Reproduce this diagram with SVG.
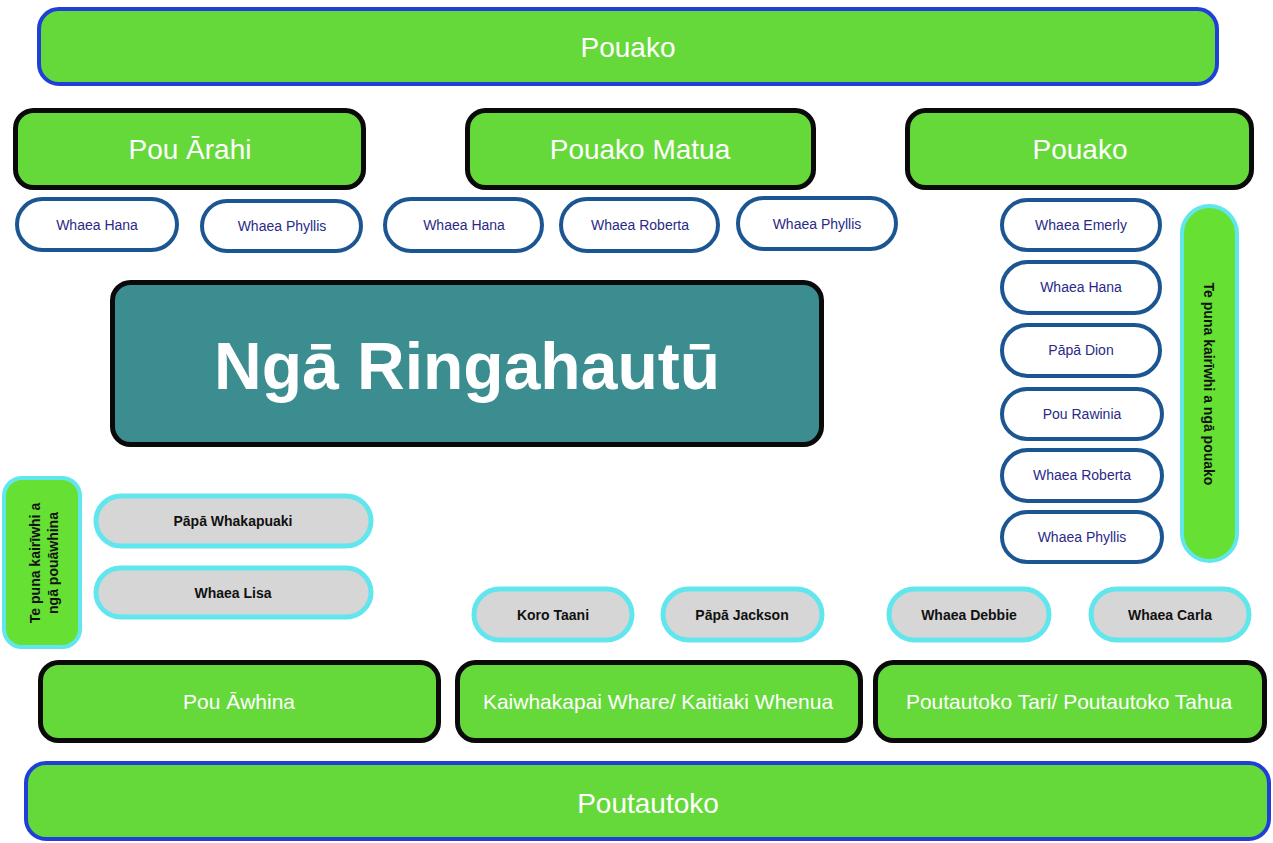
<svg xmlns="http://www.w3.org/2000/svg" width="1273" height="843" viewBox="0 0 1273 843">
<style>
.bar{fill:#66d93a;stroke:#1f3fd8;stroke-width:4}
.box{fill:#66d93a;stroke:#0a0a0a;stroke-width:5}
.pill{fill:#ffffff;stroke:#1b5592;stroke-width:4}
.gray{fill:#d6d6d6;stroke:#62e6ee;stroke-width:5}
.vert{fill:#66e032;stroke:#62e6ee;stroke-width:4}
.title{fill:#3b8d90;stroke:#0a0a0a;stroke-width:5}
text{font-family:"Liberation Sans",Arial,Helvetica,sans-serif;text-anchor:middle}
.big{fill:#ffffff;font-size:28px}
.mid{fill:#ffffff;font-size:21px}
.pt{fill:#2a2a86;font-size:14px}
.gt{fill:#111111;font-size:14px;font-weight:bold}
.vt{fill:#111111;font-size:14px;font-weight:bold}
</style>
<rect width="1273" height="843" fill="#ffffff"/>
<g id="connectors"></g>
<g id="top-pouako"><rect class="bar" x="39" y="9" width="1178" height="75" rx="20"/><text class="big" x="628" y="57">Pouako</text></g>
<g id="pou-arahi"><rect class="box" x="15.5" y="110.5" width="348" height="77" rx="18"/><text class="big" x="190" y="159">Pou Ārahi</text></g>
<g id="pouako-matua"><rect class="box" x="467.5" y="110.5" width="346" height="77" rx="18"/><text class="big" x="640" y="159">Pouako Matua</text></g>
<g id="pouako-2"><rect class="box" x="907.5" y="110.5" width="344" height="77" rx="18"/><text class="big" x="1080" y="159">Pouako</text></g>
<g id="p1"><rect class="pill" x="17" y="199" width="160" height="51" rx="25.5"/><text class="pt" x="97" y="230">Whaea Hana</text></g>
<g id="p2"><rect class="pill" x="202" y="201" width="159" height="50" rx="25"/><text class="pt" x="282" y="231">Whaea Phyllis</text></g>
<g id="p3"><rect class="pill" x="385" y="199" width="157" height="52" rx="26"/><text class="pt" x="464" y="230">Whaea Hana</text></g>
<g id="p4"><rect class="pill" x="561" y="199" width="157" height="52" rx="26"/><text class="pt" x="640" y="230">Whaea Roberta</text></g>
<g id="p5"><rect class="pill" x="738" y="198" width="158" height="51" rx="25.5"/><text class="pt" x="817" y="229">Whaea Phyllis</text></g>
<g id="r1"><rect class="pill" x="1002" y="200" width="158" height="50" rx="25"/><text class="pt" x="1081" y="230">Whaea Emerly</text></g>
<g id="r2"><rect class="pill" x="1002" y="262" width="158" height="51" rx="25.5"/><text class="pt" x="1081" y="292">Whaea Hana</text></g>
<g id="r3"><rect class="pill" x="1002" y="325" width="158" height="51" rx="25.5"/><text class="pt" x="1081" y="355">Pāpā Dion</text></g>
<g id="r4"><rect class="pill" x="1002" y="389" width="160" height="50" rx="25"/><text class="pt" x="1082" y="419">Pou Rawinia</text></g>
<g id="r5"><rect class="pill" x="1002" y="450" width="160" height="51" rx="25.5"/><text class="pt" x="1082" y="480">Whaea Roberta</text></g>
<g id="r6"><rect class="pill" x="1002" y="512" width="160" height="50" rx="25"/><text class="pt" x="1082" y="542">Whaea Phyllis</text></g>
<g id="puna-pouako"><rect class="vert" x="1182" y="206" width="55" height="355" rx="27.5"/><text class="vt" transform="translate(1204 384) rotate(90)">Te puna kairīwhi a ngā pouako</text></g>
<g id="nga-ringahautu"><rect class="title" x="112.5" y="282.5" width="709" height="162" rx="18"/><text x="467" y="389" fill="#ffffff" font-size="66" font-weight="bold">Ngā Ringahautū</text></g>
<g id="puna-pouawhina"><rect class="vert" x="4" y="478" width="76" height="169" rx="18"/><text class="vt" transform="translate(40 563) rotate(-90)">Te puna kairīwhi a</text><text class="vt" transform="translate(58 563) rotate(-90)">ngā pouāwhina</text></g>
<g id="g1"><rect class="gray" x="96" y="496" width="275" height="50" rx="25"/><text class="gt" x="233" y="526">Pāpā Whakapuaki</text></g>
<g id="g2"><rect class="gray" x="96" y="568" width="275" height="49" rx="24.5"/><text class="gt" x="233" y="598">Whaea Lisa</text></g>
<g id="g3"><rect class="gray" x="474" y="589" width="158" height="51" rx="25.5"/><text class="gt" x="553" y="620">Koro Taani</text></g>
<g id="g4"><rect class="gray" x="663" y="589" width="159" height="51" rx="25.5"/><text class="gt" x="742" y="620">Pāpā Jackson</text></g>
<g id="g5"><rect class="gray" x="889" y="589" width="160" height="51" rx="25.5"/><text class="gt" x="969" y="620">Whaea Debbie</text></g>
<g id="g6"><rect class="gray" x="1091" y="589" width="158" height="51" rx="25.5"/><text class="gt" x="1170" y="620">Whaea Carla</text></g>
<g id="pou-awhina"><rect class="box" x="40.5" y="662.5" width="398" height="78" rx="18"/><text class="mid" x="239" y="709">Pou Āwhina</text></g>
<g id="kaiwhakapai"><rect class="box" x="457.5" y="662.5" width="403" height="78" rx="18"/><text class="mid" x="658" y="709">Kaiwhakapai Whare/ Kaitiaki Whenua</text></g>
<g id="poutautoko-tari"><rect class="box" x="875.5" y="662.5" width="389" height="78" rx="18"/><text class="mid" x="1069" y="709">Poutautoko Tari/ Poutautoko Tahua</text></g>
<g id="poutautoko"><rect class="bar" x="26" y="763" width="1243" height="76" rx="20"/><text class="big" x="648" y="813">Poutautoko</text></g>
</svg>
